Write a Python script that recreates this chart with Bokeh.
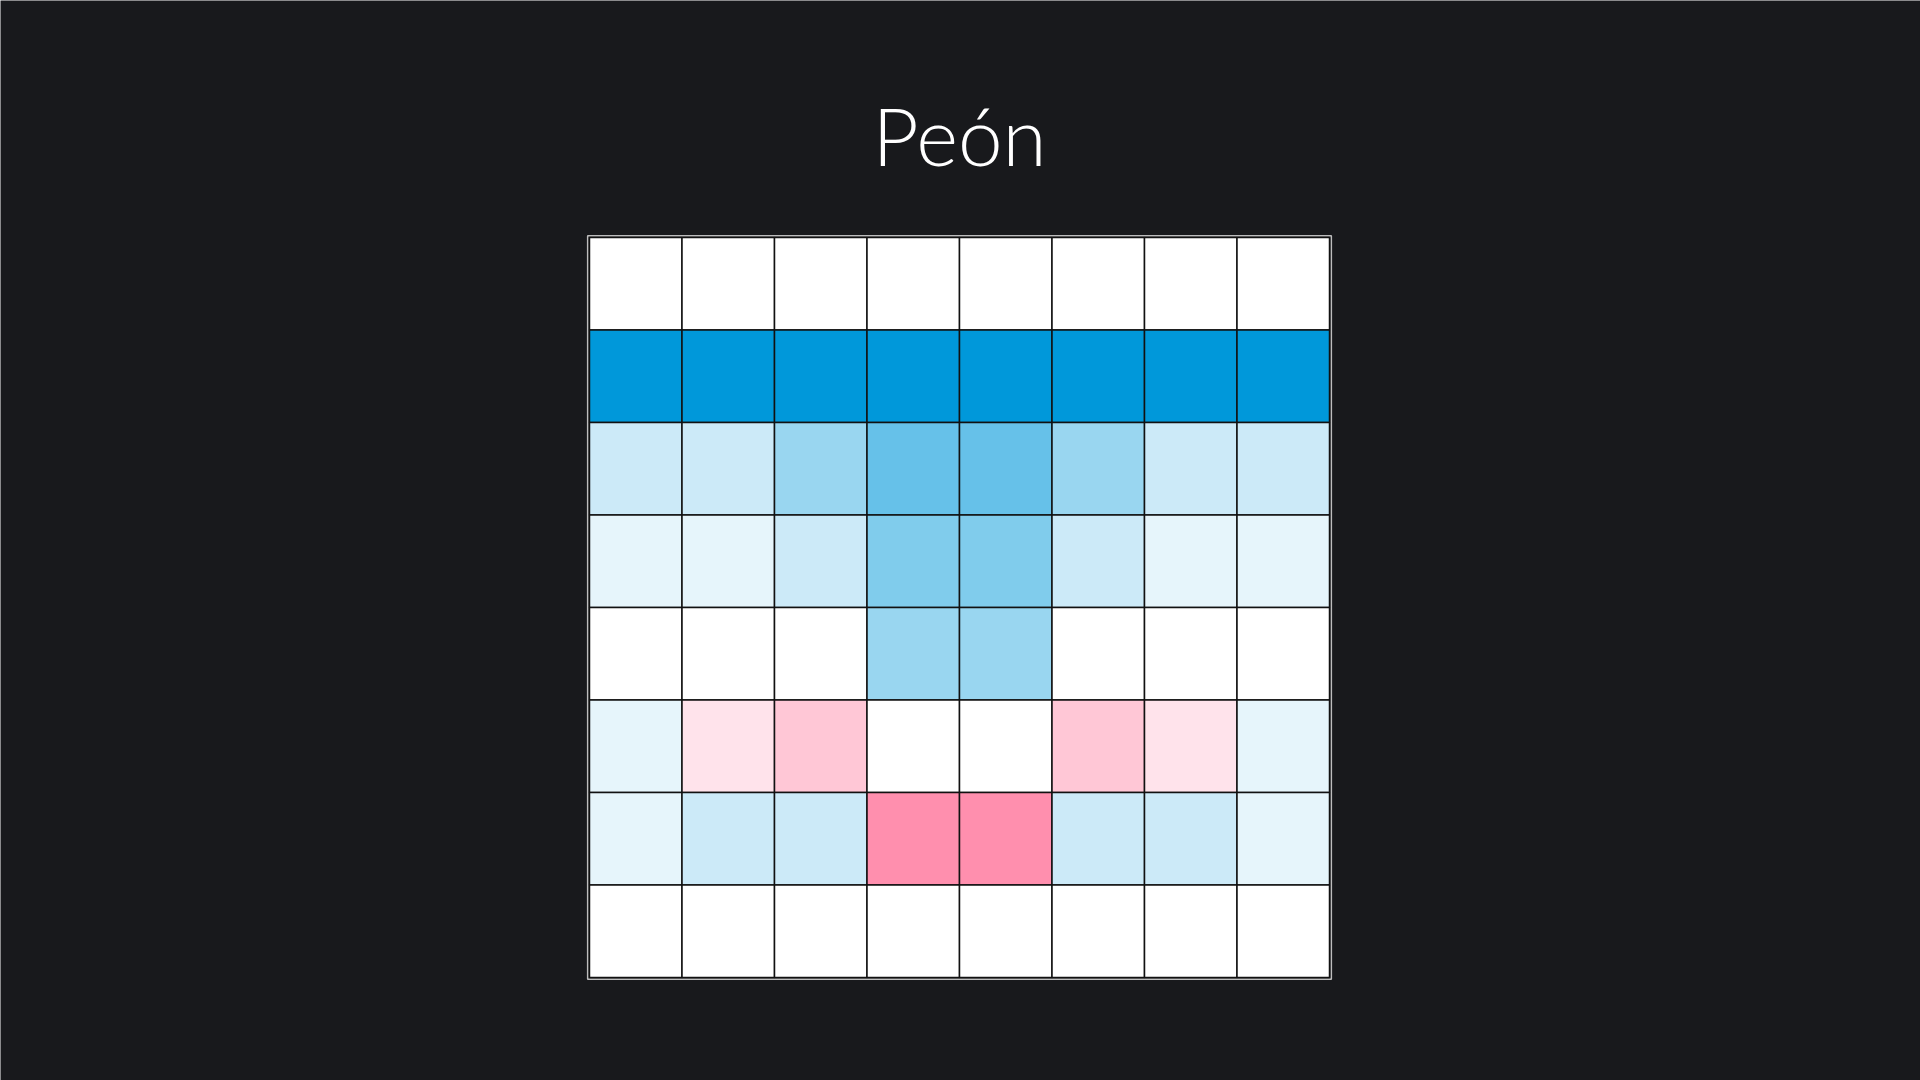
from bokeh.plotting import figure
from bokeh.models import Range1d, ColumnDataSource
from bokeh.core.properties import value
from bokeh.embed import file_html
from bokeh.resources import INLINE

title_text = "Peón"
files = ["a", "b", "c", "d", "e", "f", "g", "h"]
# rows listed from top of the board to bottom
row8 = [0, 0, 0, 0, 0, 0, 0, 0]
row7 = [50, 50, 50, 50, 50, 50, 50, 50]
row6 = [10, 10, 20, 30, 30, 20, 10, 10]
row5 = [5, 5, 10, 25, 25, 10, 5, 5]
row4 = [0, 0, 0, 20, 20, 0, 0, 0]
row3 = [5, -5, -10, 0, 0, -10, -5, 5]
row2 = [5, 10, 10, -20, -20, 10, 10, 5]
row1 = [0, 0, 0, 0, 0, 0, 0, 0]
rows = [row8, row7, row6, row5, row4, row3, row2, row1]

BLUE = (0, 152, 218)
PINK = (255, 143, 174)
POS_MAX = 50.0
NEG_MAX = 20.0

def color_for(v):
    if v >= 0:
        t, c = v / POS_MAX, BLUE
    else:
        t, c = -v / NEG_MAX, PINK
    t = min(t, 1.0)
    r, g, b = (round(255 - t * (255 - k)) for k in c)
    return "#%02x%02x%02x" % (r, g, b)

xs, ys, vals, cols = [], [], [], []
for ri, row in enumerate(rows):
    for ci, v in enumerate(row):
        xs.append(ci + 0.5)
        ys.append(7.5 - ri)
        vals.append(v)
        cols.append(color_for(v))
src = ColumnDataSource(dict(x=xs, y=ys, v=vals, c=cols))

W, H = 1920, 1080
left_px, top_px, cell = 589, 237, 92.5
x0 = -left_px / cell
x1 = (W - left_px) / cell
y1 = 8 + top_px / cell
y0 = 8 - (H - top_px) / cell

p = figure(width=W, height=H, output_backend="svg", toolbar_location=None,
           x_range=Range1d(x0, x1), y_range=Range1d(y0, y1),
           min_border=0, background_fill_color="#18191c",
           border_fill_color="#18191c", outline_line_color=None)
p.axis.visible = False
p.grid.visible = False

p.rect(x=4, y=4, width=8.04, height=8.04, fill_color=None,
       line_color="#bdbdbd", line_width=1.5)
p.rect(x="x", y="y", width=1, height=1, source=src, fill_color="c",
       line_color="#111111", line_width=1.5)

p.text(x=[4], y=[8 + (237 - 134) / cell], text=[title_text],
       text_align="center", text_baseline="middle",
       text_font=value("Lato Light, Lato, Open Sans, sans-serif"),
       text_font_size="80px", text_color="#ffffff")

open("out.html", "w").write(file_html(p, INLINE))
